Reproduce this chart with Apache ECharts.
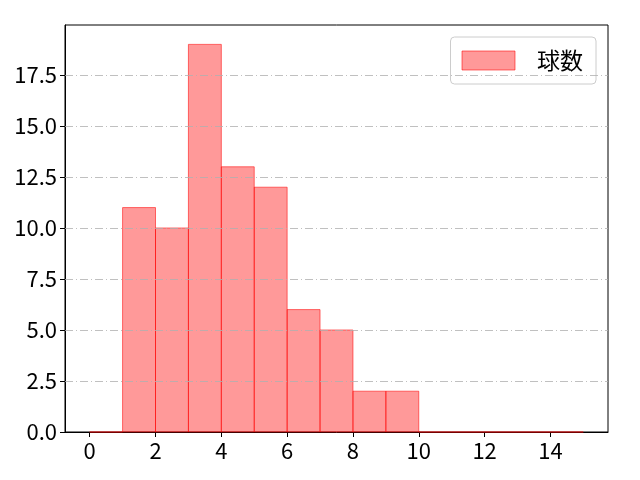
<!DOCTYPE html>
<html>
<head>
<meta charset="utf-8">
<script src="https://cdn.jsdelivr.net/npm/echarts@6/dist/echarts.min.js"></script>
<style>
    html, body { margin: 0; padding: 0; background: #fff; }
    #chart { width: 640px; height: 480px; }
</style>
</head>
<body>
<div id="chart"></div>
<script>
// histogram bins (left edge, right edge) and counts
var binStarts = [0, 1, 2, 3, 4, 5, 6, 7, 8, 9, 10, 11, 12, 13, 14];
var binEnds = [1, 2, 3, 4, 5, 6, 7, 8, 9, 10, 11, 12, 13, 14, 15];
var counts = [0, 11, 10, 19, 13, 12, 6, 5, 2, 2, 0, 0, 0, 0, 0];
var xTicks = [0, 2, 4, 6, 8, 10, 12, 14];
var yTicks = [0, 2.5, 5, 7.5, 10, 12.5, 15, 17.5];
var seriesName = '球数';

var font = '"Noto Sans CJK JP", "Noto Sans", sans-serif';

var data = [];
for (var i = 0; i < counts.length; i++) {
    data.push([binStarts[i], binEnds[i], counts[i]]);
}

var renderBar = function(params, api) {
    var p0 = api.coord([api.value(0), api.value(2)]);
    var p1 = api.coord([api.value(1), 0]);
    return {
        type: 'rect',
        shape: { x: p0[0], y: p0[1], width: p1[0] - p0[0], height: p1[1] - p0[1] },
        style: {
            fill: 'rgba(255,0,0,0.4)',
            stroke: 'rgba(255,0,0,0.55)',
            lineWidth: 1
        }
    };
};

var chart = echarts.init(document.getElementById('chart'));

chart.setOption({
    animation: false,
    grid: { left: 65, right: 32, top: 25, bottom: 48, show: true, borderColor: '#000', borderWidth: 1 },
    legend: {
        right: 44,
        top: 37,
        padding: [12, 13, 12, 11],
        borderColor: '#ccc',
        borderWidth: 1,
        borderRadius: 4,
        itemWidth: 53,
        itemHeight: 19,
        itemGap: 0,
        textStyle: { fontFamily: font, fontSize: 23, color: '#000', padding: [0, 0, 0, 17] },
        data: [{ name: seriesName, icon: 'rect', itemStyle: { color: 'rgba(255,0,0,0.4)', borderColor: 'rgba(255,0,0,0.55)', borderWidth: 1 } }]
    },
    xAxis: {
        type: 'value',
        min: -0.75,
        max: 15.75,
        axisLine: { show: true, onZero: false, lineStyle: { color: '#000' } },
        axisTick: { show: true, length: 5, customValues: xTicks, lineStyle: { color: '#000' } },
        axisLabel: { customValues: xTicks, color: '#000', fontFamily: font, fontSize: 22, margin: 8 },
        splitLine: { show: false }
    },
    yAxis: {
        type: 'value',
        min: 0,
        max: 19.95,
        axisLine: { show: true, onZero: false, lineStyle: { color: '#000' } },
        axisTick: { show: true, length: 5, customValues: yTicks, lineStyle: { color: '#000' } },
        axisLabel: {
            customValues: yTicks,
            color: '#000',
            fontFamily: font,
            fontSize: 22,
            margin: 8,
            formatter: function(v) { return v.toFixed(1); }
        },
        splitLine: { show: false }
    },
    series: [
        {
            name: seriesName,
            type: 'custom',
            renderItem: renderBar,
            encode: { x: [0, 1], y: 2 },
            data: data,
            z: 2
        },
        {
            // dash-dot horizontal grid lines
            type: 'line',
            silent: true,
            data: [],
            markLine: {
                symbol: 'none',
                silent: true,
                label: { show: false },
                lineStyle: { color: '#b0b0b0', type: [8, 3, 1, 3], width: 0.8 },
                data: yTicks.slice(1).map(function(v) { return { yAxis: v }; })
            },
            z: 1
        }
    ]
});
</script>
</body>
</html>
